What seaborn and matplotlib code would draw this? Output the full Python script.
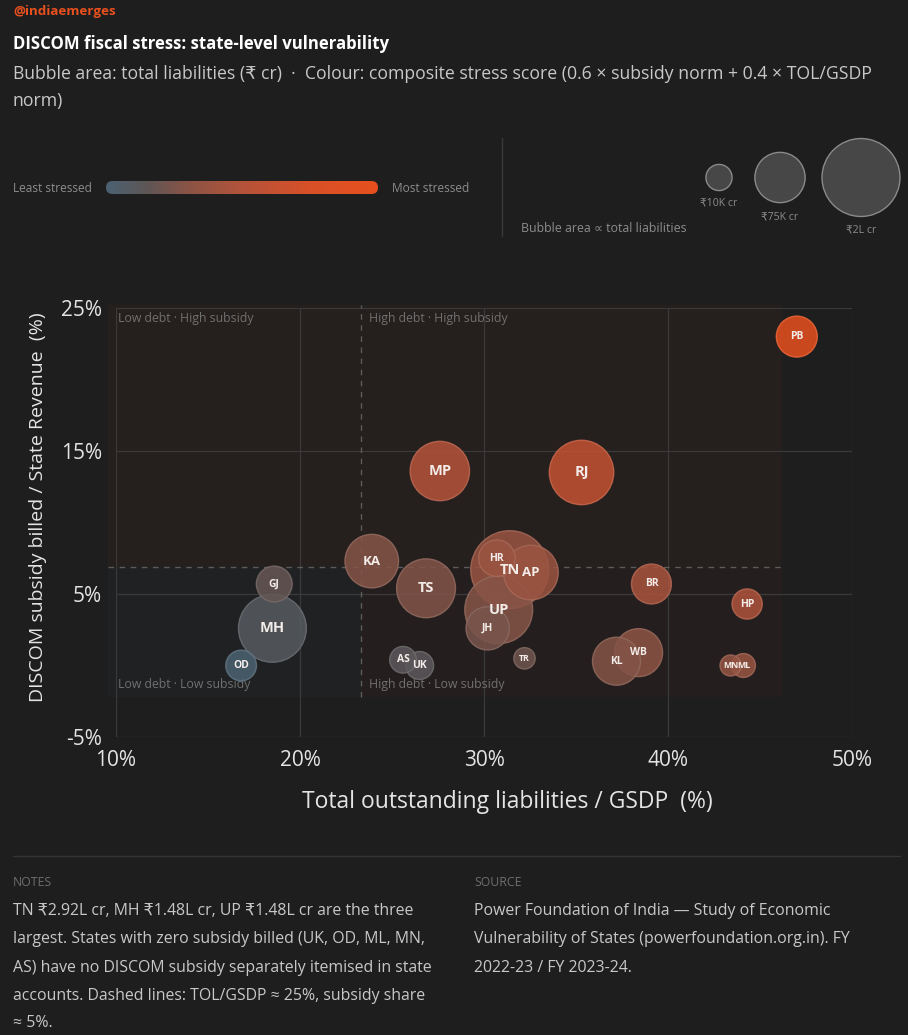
import numpy as np
import pandas as pd
import matplotlib
matplotlib.use("Agg")
import matplotlib.pyplot as plt
import seaborn as sns
from matplotlib.colors import LinearSegmentedColormap
from matplotlib.patches import Rectangle, FancyBboxPatch
from matplotlib.lines import Line2D

# ---- data ----
states = ["PB", "MP", "RJ", "KA", "TS", "HR", "TN", "AP", "UP", "JH", "BR",
          "HP", "MN", "ML", "WB", "KL", "TR", "AS", "UK", "OD", "MH", "GJ"]
tol_gsdp = [47.0, 27.6, 35.3, 23.9, 26.85, 30.7, 31.4, 32.55, 30.8, 30.2, 39.1,
            44.3, 43.4, 44.1, 38.4, 37.2, 32.2, 25.6, 26.5, 16.8, 18.5, 18.6]
subsidy = [23.0, 13.6, 13.5, 7.3, 5.4, 7.5, 6.7, 6.5, 3.9, 2.6, 5.7,
           4.3, 0.0, 0.0, 0.9, 0.3, 0.5, 0.4, 0.0, 0.0, 2.6, 5.7]
# total liabilities, thousand crore rupees
liabilities = [45, 110, 132, 87, 108, 33, 292, 91, 148, 52, 42,
               18, 1.5, 6, 67, 67, 2, 11, 13.5, 19, 148, 31]

legend_sizes = [10, 75, 200]
legend_labels = ["₹10K cr", "₹75K cr", "₹2L cr"]

x_ticks = [10, 20, 30, 40, 50]
y_ticks = [-5, 5, 15, 25]
tol_cut = 23.3
sub_cut = 6.9
quad_x = (9.55, 46.2)
quad_y = (-2.2, 25.2)

notes_lines = [
    "TN ₹2.92L cr, MH ₹1.48L cr, UP ₹1.48L cr are the three",
    "largest. States with zero subsidy billed (UK, OD, ML, MN,",
    "AS) have no DISCOM subsidy separately itemised in state",
    "accounts. Dashed lines: TOL/GSDP ≈ 25%, subsidy share",
    "≈ 5%.",
]
source_lines = [
    "Power Foundation of India — Study of Economic",
    "Vulnerability of States (powerfoundation.org.in). FY",
    "2022-23 / FY 2023-24.",
]

# ---- style ----
BG = "#1e1e1e"
GRID = "#3a3a3a"
TXT = "#e4e4e4"
MUTED = "#8c8c8c"
ORANGE = "#e8501e"

sns.set_theme(style="dark", rc={"axes.facecolor": BG, "figure.facecolor": BG})
plt.rcParams["font.family"] = ["Open Sans", "DejaVu Sans"]

cmap = LinearSegmentedColormap.from_list("stress", [
    (0.0, "#4b6272"), (0.15, "#5e5656"), (0.3, "#8a5446"),
    (0.5, "#b4533a"), (0.75, "#d85028"), (1.0, ORANGE)])

df = pd.DataFrame({"state": states, "tol": tol_gsdp, "sub": subsidy, "liab": liabilities})
sub_n = (df["sub"] - df["sub"].min()) / (df["sub"].max() - df["sub"].min())
tol_n = (df["tol"] - df["tol"].min()) / (df["tol"].max() - df["tol"].min())
df["stress"] = 0.6 * sub_n + 0.4 * tol_n
df = df.sort_values("liab", ascending=False).reset_index(drop=True)

# marker area linear in liabilities (pt^2)
size_range = (207, 3150)
size_norm = (0, 200)

W, H = 908, 1035
fig = plt.figure(figsize=(W / 100, H / 100), dpi=100)


def fx(px):
    return px / W


def fy(py):
    return 1 - py / H


# ---- main axes ----
ax = fig.add_axes([fx(116), fy(737), (852 - 116) / W, (737 - 308) / H])
ax.set_facecolor(BG)

# quadrant shading
ax.add_patch(Rectangle((quad_x[0], sub_cut), quad_x[1] - quad_x[0], quad_y[1] - sub_cut,
                       facecolor=ORANGE, alpha=0.04, lw=0, clip_on=False, zorder=0))
ax.add_patch(Rectangle((tol_cut, quad_y[0]), quad_x[1] - tol_cut, sub_cut - quad_y[0],
                       facecolor=ORANGE, alpha=0.03, lw=0, clip_on=False, zorder=0))
ax.add_patch(Rectangle((quad_x[0], quad_y[0]), tol_cut - quad_x[0], sub_cut - quad_y[0],
                       facecolor="#4d6170", alpha=0.05, lw=0, clip_on=False, zorder=0))
ax.plot([tol_cut, tol_cut], quad_y, color="#5c5c5c", lw=1, dashes=(4, 4), zorder=1, clip_on=False)
ax.plot(quad_x, [sub_cut, sub_cut], color="#5c5c5c", lw=1, dashes=(4, 4), zorder=1, clip_on=False)

sns.scatterplot(data=df, x="tol", y="sub", hue="stress", palette=cmap, hue_norm=(0, 1),
                size="liab", sizes=size_range, size_norm=size_norm, alpha=0.86,
                linewidth=1, legend=False, ax=ax, zorder=3, clip_on=False)
coll = ax.collections[-1]
fc = np.array(coll.get_facecolors())
ec = fc.copy()
ec[:, :3] = fc[:, :3] * 0.88 + 0.12
coll.set_edgecolors(ec)

for _, r in df.iterrows():
    if r["liab"] >= 100:
        fs = 10.5
    elif r["liab"] >= 75:
        fs = 9.5
    elif r["liab"] >= 10:
        fs = 7.5
    else:
        fs = 6.3
    ax.text(r["tol"], r["sub"], r["state"], ha="center", va="center", fontsize=fs,
            color="#f3ece9", fontweight="bold", zorder=5)

qcol = "#707070"
ax.text(10.1, 24.25, "Low debt · High subsidy", color=qcol, fontsize=8.8, va="center", zorder=2)
ax.text(tol_cut + 0.45, 24.25, "High debt · High subsidy", color=qcol, fontsize=8.8, va="center", zorder=2)
ax.text(10.1, -1.36, "Low debt · Low subsidy", color=qcol, fontsize=8.8, va="center", zorder=2)
ax.text(tol_cut + 0.45, -1.36, "High debt · Low subsidy", color=qcol, fontsize=8.8, va="center", zorder=2)

ax.set_xlim(10, 50)
ax.set_ylim(-5, 25)
ax.set_xticks(x_ticks)
ax.set_yticks(y_ticks)
ax.set_xticklabels([f"{t}%" for t in x_ticks])
ax.set_yticklabels([f"{t}%" for t in y_ticks])
ax.grid(True, color=GRID, lw=0.9)
ax.set_axisbelow(True)
for s in ax.spines.values():
    s.set_visible(False)
ax.tick_params(axis="both", length=0, labelsize=15, labelcolor=TXT)
ax.tick_params(axis="x", pad=9)
ax.tick_params(axis="y", pad=10)

ax.set_xlabel("Total outstanding liabilities / GSDP  (%)", fontsize=16.5, color=TXT)
ax.set_ylabel("DISCOM subsidy billed / State Revenue  (%)", fontsize=14, color=TXT)
ax.xaxis.set_label_coords((507 - 116) / 736, (737 - 802) / 429)
ax.xaxis.label.set_va("center")
ax.yaxis.set_label_coords((38 - 116) / 736, (737 - 507) / 429)
ax.yaxis.label.set_va("center")

# ---- header ----
fig.text(fx(13), fy(12), "@indiaemerges", color=ORANGE, fontsize=9.6, fontweight="bold", va="center")
fig.text(fx(13), fy(44), "DISCOM fiscal stress: state-level vulnerability", color="white",
         fontsize=12.1, fontweight="bold", va="center")
fig.text(fx(13), fy(74), "Bubble area: total liabilities (₹ cr)  ·  Colour: composite stress score "
         "(0.6 × subsidy norm + 0.4 × TOL/GSDP", color="#c8c8c8", fontsize=12.7, va="center")
fig.text(fx(13), fy(101), "norm)", color="#c8c8c8", fontsize=12.7, va="center")

# colour legend
fig.text(fx(13), fy(188), "Least stressed", color=MUTED, fontsize=8.6, va="center")
fig.text(fx(392), fy(188), "Most stressed", color=MUTED, fontsize=8.6, va="center")
ax_cb = fig.add_axes([fx(106), fy(194), 272 / W, 13 / H])
ax_cb.set_xlim(0, 272)
ax_cb.set_ylim(0, 13)
im = ax_cb.imshow(np.linspace(0, 1, 256)[None, :], cmap=cmap, extent=(0, 272, 0, 13), aspect="auto")
pill = FancyBboxPatch((0, 0), 272, 13, boxstyle="round,pad=0,rounding_size=6.5",
                      transform=ax_cb.transData, facecolor="none", edgecolor="none")
ax_cb.add_patch(pill)
im.set_clip_path(pill)
ax_cb.axis("off")

fig.add_artist(Line2D([fx(502), fx(502)], [fy(138), fy(236)], color="#3a3a3a", lw=1))

# size legend
ax_sz = fig.add_axes([0, 0, 1, 1], zorder=-1)
ax_sz.set_xlim(0, W)
ax_sz.set_ylim(H, 0)
ax_sz.axis("off")
leg_x = [719, 780, 861]
sns.scatterplot(x=leg_x, y=[177.5] * 3, size=legend_sizes, sizes=size_range, size_norm=size_norm,
                color="#474747", edgecolor="#8a8a8a", linewidth=1, legend=False, ax=ax_sz)
for lx, ly, lab in zip(leg_x, [203, 217, 230], legend_labels):
    fig.text(fx(lx), fy(ly), lab, color=MUTED, fontsize=7.6, ha="center", va="center")
fig.text(fx(521), fy(229), "Bubble area ∝ total liabilities", color=MUTED, fontsize=8.9, va="center")

# ---- footer ----
fig.add_artist(Line2D([fx(13), fx(900)], [fy(856), fy(856)], color="#353535", lw=1))
fig.text(fx(13), fy(883), "NOTES", color="#6e6e6e", fontsize=8.8, va="center")
fig.text(fx(474), fy(883), "SOURCE", color="#6e6e6e", fontsize=8.8, va="center")
line_y = [911, 939, 968, 996, 1023]
for ly, t in zip(line_y, notes_lines):
    fig.text(fx(13), fy(ly), t, color="#c8c8c8", fontsize=11.4, va="center")
for ly, t in zip(line_y, source_lines):
    fig.text(fx(474), fy(ly), t, color="#c8c8c8", fontsize=11.4, va="center")

fig.savefig("out.png", dpi=100, facecolor=BG)
